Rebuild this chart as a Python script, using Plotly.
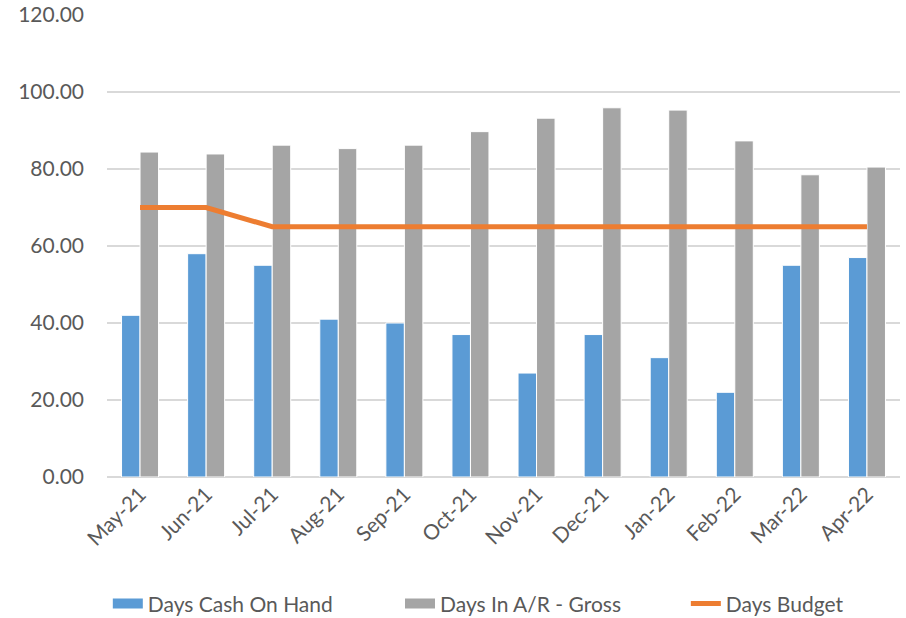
import plotly.graph_objects as go

months = ["May-21", "Jun-21", "Jul-21", "Aug-21", "Sep-21", "Oct-21",
          "Nov-21", "Dec-21", "Jan-22", "Feb-22", "Mar-22", "Apr-22"]
days_cash = [42, 58, 55, 41, 40, 37, 27, 37, 31, 22, 55, 57]
days_ar = [84.4, 83.9, 86.2, 85.3, 86.2, 89.7, 93.2, 95.9, 95.3, 87.3, 78.5, 80.5]
days_budget = [70, 70, 65, 65, 65, 65, 65, 65, 65, 65, 65, 65]

font_family = "Lato, Open Sans, sans-serif"
text_color = "#595959"
blue, gray, orange = "#5B9BD5", "#A5A5A5", "#ED7D31"

fig = go.Figure()
fig.add_trace(go.Bar(x=months, y=days_cash, name="Days Cash On Hand", showlegend=False,
                     marker=dict(color=blue, line=dict(color="white", width=1))))
fig.add_trace(go.Bar(x=months, y=days_ar, name="Days In A/R - Gross", showlegend=False,
                     marker=dict(color=gray, line=dict(color="white", width=1))))
fig.add_trace(go.Scatter(x=months, y=days_budget, name="Days Budget", mode="lines",
                         showlegend=False, line=dict(color=orange, width=5)))

# legend-only entries styled like the Excel legend keys, one legend each for placement
fig.add_trace(go.Scatter(x=[None], y=[None], mode="lines", name="Days Cash On Hand",
                         line=dict(color=blue, width=14), hoverinfo="skip", legend="legend"))
fig.add_trace(go.Scatter(x=[None], y=[None], mode="lines", name="Days In A/R - Gross",
                         line=dict(color=gray, width=14), hoverinfo="skip", legend="legend2"))
fig.add_trace(go.Scatter(x=[None], y=[None], mode="lines", name="Days Budget",
                         line=dict(color=orange, width=5), hoverinfo="skip", legend="legend3"))

legend_common = dict(orientation="h", xanchor="left", xref="container", yref="container",
                     y=0.023, yanchor="middle", bgcolor="rgba(0,0,0,0)",
                     font=dict(size=21, color=text_color))

fig.update_layout(
    width=906, height=618,
    margin=dict(l=107, r=6, t=15, b=141, autoexpand=False),
    paper_bgcolor="white", plot_bgcolor="white",
    barmode="group", bargap=0.44, bargroupgap=0,
    font=dict(family=font_family, size=21, color=text_color),
    showlegend=True,
    legend=dict(x=0.119, **legend_common),
    legend2=dict(x=0.4415, **legend_common),
    legend3=dict(x=0.757, **legend_common),
    xaxis=dict(tickangle=-45, showgrid=False, showline=False, ticks="", automargin=False,
               tickfont=dict(size=21, color=text_color)),
    yaxis=dict(range=[0, 120], dtick=20, tickformat=".2f", showgrid=True, automargin=False,
               gridcolor="#D9D9D9", gridwidth=1.5, zeroline=True, zerolinecolor="#D9D9D9",
               zerolinewidth=1.5, showline=False, ticks="", ticklabelstandoff=22,
               tickfont=dict(size=21, color=text_color)),
)

fig.write_html("out.html", config={"displayModeBar": False},
               post_script="document.body.style.margin='0';document.body.style.overflow='hidden';")
